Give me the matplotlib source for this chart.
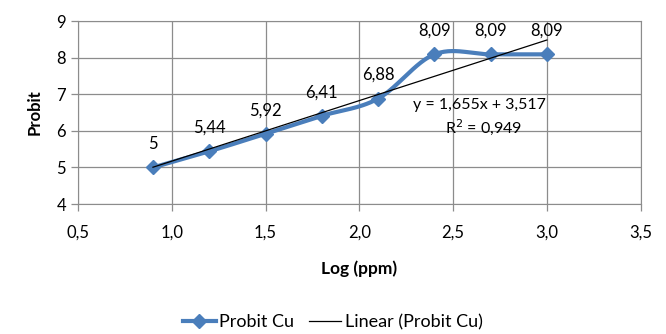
import numpy as np
import matplotlib.pyplot as plt

log_ppm = [0.9, 1.2, 1.5, 1.8, 2.1, 2.4, 2.7, 3.0]
probit = [5.0, 5.44, 5.92, 6.41, 6.88, 8.09, 8.09, 8.09]
point_labels = ['5', '5,44', '5,92', '6,41', '6,88', '8,09', '8,09', '8,09']
slope, intercept = 1.655, 3.517
r2 = '0,949'
xticks = [0.5, 1.0, 1.5, 2.0, 2.5, 3.0, 3.5]
yticks = [4, 5, 6, 7, 8, 9]

plt.rcParams['font.family'] = ['Lato', 'DejaVu Sans']


def smooth(x, y, n=30):
    # excel-like smoothed line (bezier through the points)
    x = np.asarray(x, float)
    y = np.asarray(y, float)
    px, py = [], []
    for i in range(len(x) - 1):
        p0 = np.array([x[max(i - 1, 0)], y[max(i - 1, 0)]])
        p1 = np.array([x[i], y[i]])
        p2 = np.array([x[i + 1], y[i + 1]])
        p3 = np.array([x[min(i + 2, len(x) - 1)], y[min(i + 2, len(x) - 1)]])
        c1 = p1 + (p2 - p0) / 6
        c2 = p2 - (p3 - p1) / 6
        t = np.linspace(0, 1, n)[:, None]
        b = ((1 - t) ** 3) * p1 + 3 * ((1 - t) ** 2) * t * c1 + 3 * (1 - t) * t ** 2 * c2 + t ** 3 * p2
        px.extend(b[:, 0])
        py.extend(b[:, 1])
    return px, py


fig = plt.figure(figsize=(6.66, 3.34), dpi=100)
ax = fig.add_axes([0.117, 0.389, 0.845, 0.548])

blue = '#4A7EBB'
sx, sy = smooth(log_ppm, probit)
ax.plot(sx, sy, color=blue, lw=3, zorder=3)
ax.plot(log_ppm, probit, 'D', color=blue, ms=7, zorder=4)
# legend proxy
ax.plot([], [], color=blue, lw=3, marker='D', ms=7, label='Probit Cu')

tx = np.array([log_ppm[0], log_ppm[-1]])
ax.plot(tx, slope * tx + intercept, color='black', lw=0.9, zorder=5,
        label='Linear (Probit Cu)')

for x, y, lab in zip(log_ppm, probit, point_labels):
    ax.annotate(lab, (x, y), xytext=(0, 17), textcoords='offset points',
                ha='center', va='center', fontsize=12)

eq = 'y = ' + f'{slope:.3f}'.replace('.', ',') + 'x + ' + f'{intercept:.3f}'.replace('.', ',')
ax.text(2.64, 6.72, eq, ha='center', va='center', fontsize=11.5)
ax.text(2.66, 6.10, 'R$^2$ = ' + r2, ha='center', va='center', fontsize=11.5)

ax.set_xlim(0.5, 3.5)
ax.set_ylim(4, 9)
ax.set_xticks(xticks)
ax.set_xticklabels([f'{v:.1f}'.replace('.', ',') for v in xticks])
ax.set_yticks(yticks)
ax.grid(True, color='#8c8c8c', lw=0.9)
ax.set_axisbelow(True)
for s in ax.spines.values():
    s.set_color('#8c8c8c')
ax.tick_params(colors='#8c8c8c', labelcolor='black', labelsize=12, length=5, width=0.9)
ax.tick_params(axis='x', pad=10)

ax.set_xlabel('Log (ppm)', fontweight='bold', fontsize=12.5, labelpad=14)
ax.set_ylabel('Probit', fontweight='bold', fontsize=12, labelpad=10)

fig.legend(loc='center', bbox_to_anchor=(0.5, 0.035), ncol=2, frameon=False,
           fontsize=13, handlelength=1.8, handletextpad=0.2, columnspacing=0.8)

plt.savefig('out.png', dpi=100)
